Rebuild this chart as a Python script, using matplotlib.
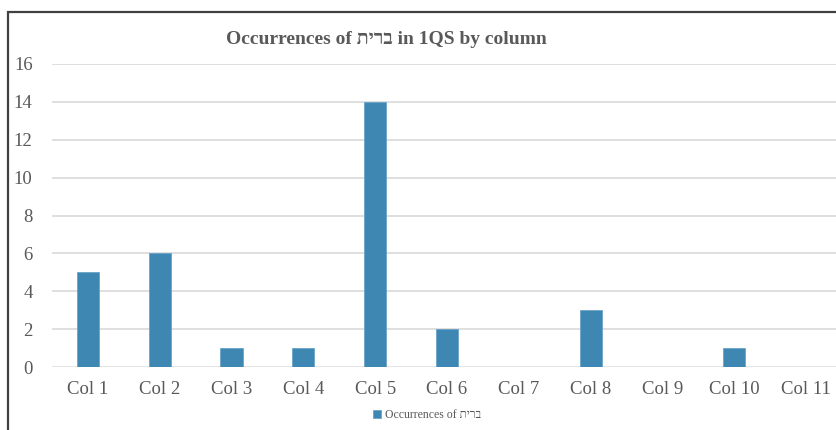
import matplotlib.pyplot as plt
from matplotlib.patches import Rectangle

# data
cols = ['Col 1', 'Col 2', 'Col 3', 'Col 4', 'Col 5', 'Col 6',
        'Col 7', 'Col 8', 'Col 9', 'Col 10', 'Col 11']
counts = [5, 6, 1, 1, 14, 2, 0, 3, 0, 1, 0]
yticks = [0, 2, 4, 6, 8, 10, 12, 14, 16]

heb = 'תירב'  # reversed so it draws right-to-left
fam = ['Liberation Serif', 'DejaVu Serif']
plt.rcParams['font.family'] = fam

W, H = 837, 430
fig = plt.figure(figsize=(W / 100, H / 100), dpi=100)
ax = fig.add_axes([52 / W, 1 - 367 / H, 790 / W, 303 / H])

x = range(len(cols))
bars = ax.bar(x, counts, width=0.31, color='#3E87B3', edgecolor='#6AA3C8',
              linewidth=0.6, zorder=3, label='Occurrences of ' + heb)

ax.set_xlim(-0.5, len(cols) - 0.5)
ax.set_ylim(0, 16)
ax.set_yticks(yticks)
ax.set_xticks(list(x))
ax.set_xticklabels(cols)
ax.grid(axis='y', color='#D9D9D9', linewidth=1.2, zorder=0)
for s in ax.spines.values():
    s.set_visible(False)
ax.axhline(0, color='#E6E6E6', linewidth=1.5, zorder=2)
ax.tick_params(length=0, labelsize=13.5, labelcolor='#595959')
ax.tick_params(axis='x', pad=10)
ax.tick_params(axis='y', pad=14)

fig.text(386 / W, 1 - 40 / H, 'Occurrences of ' + heb + ' in 1QS by column',
         ha='center', va='center', fontsize=14, fontweight='bold',
         color='#595959')

fig.legend(handles=[bars], loc='center', bbox_to_anchor=(427 / W, 1 - 415 / H),
           frameon=False, fontsize=8.5, handlelength=0.7, handleheight=0.7,
           handletextpad=0.3, labelcolor='#595959')

# chart border
fig.patches.append(Rectangle((8 / W, -0.1), 1.1, (1 - 12 / H) + 0.1,
                             transform=fig.transFigure, fill=False,
                             edgecolor='#404040', linewidth=1.6))

fig.savefig('out.png', dpi=100)
